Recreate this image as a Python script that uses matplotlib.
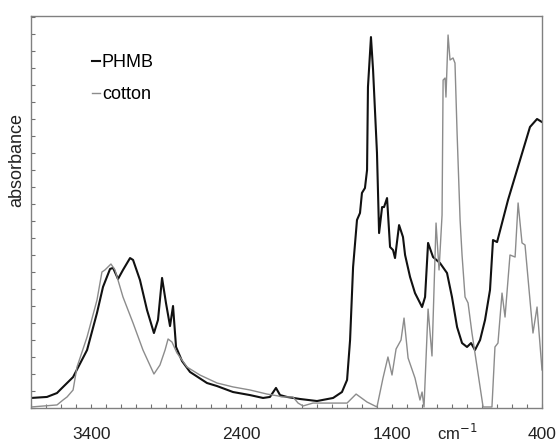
import matplotlib.pyplot as plt
import numpy as np
from matplotlib.ticker import MultipleLocator, FixedLocator, NullFormatter

# PHMB spectrum (wavenumber in cm-1, absorbance in arbitrary units)
phmb_wn = [3800, 3694, 3627, 3607, 3520, 3427, 3361, 3321, 3274, 3254, 3221, 3188,
           3141, 3121, 3075, 3028, 2982, 2955, 2928, 2902, 2875, 2855, 2835, 2795,
           2742, 2629, 2562, 2456, 2343, 2256, 2210, 2170, 2143, 2097, 2010, 1897,
           1790, 1731, 1697, 1677, 1657, 1631, 1611, 1598, 1578, 1564, 1558, 1538,
           1524, 1498, 1484, 1464, 1451, 1431, 1411, 1391, 1378, 1351, 1325, 1311,
           1278, 1245, 1198, 1178, 1158, 1125, 1079, 1032, 999, 965, 932, 899,
           872, 846, 812, 779, 746, 726, 699, 666, 626, 546, 480, 433, 400]
phmb_abs = [0.59, 0.65, 0.88, 1.06, 1.82, 3.41, 5.59, 7.12, 8.18, 8.24, 7.59, 8.12,
            8.82, 8.71, 7.53, 5.76, 4.41, 5.18, 7.65, 6.18, 4.82, 6.0, 3.59, 2.76,
            2.12, 1.47, 1.29, 0.94, 0.76, 0.59, 0.65, 1.18, 0.76, 0.65, 0.53, 0.41,
            0.59, 0.94, 1.65, 4.0, 8.29, 11.06, 11.47, 12.65, 12.94, 14.0, 18.88, 21.82,
            19.88, 15.0, 10.29, 11.82, 11.82, 12.35, 9.47, 9.29, 8.82, 10.76, 10.06, 9.0,
            7.71, 6.76, 5.94, 6.53, 9.71, 8.88, 8.53, 7.94, 6.53, 4.76, 3.82, 3.59,
            3.82, 3.41, 4.0, 5.18, 6.94, 9.88, 9.76, 10.88, 12.24, 14.59, 16.53, 17.0, 16.82]

# cotton spectrum
cotton_wn = [3800, 3627, 3587, 3560, 3520, 3494, 3427, 3361, 3328, 3308, 3268, 3241,
             3188, 3121, 3055, 2982, 2942, 2908, 2888, 2862, 2829, 2762, 2676, 2562,
             2456, 2343, 2230, 2156, 2130, 2057, 2023, 1990, 1924, 1697, 1637, 1564,
             1498, 1458, 1425, 1398, 1371, 1338, 1318, 1291, 1245, 1212, 1198, 1185,
             1158, 1132, 1105, 1085, 1065, 1058, 1045, 1039, 1025, 1012, 992, 979,
             965, 945, 932, 912, 892, 866, 832, 799, 792, 733, 713, 693,
             666, 646, 613, 579, 559, 533, 513, 480, 460, 433, 400]
cotton_abs = [0.06, 0.18, 0.47, 0.65, 1.06, 2.41, 4.18, 6.35, 8.0, 8.12, 8.47, 8.12,
              6.53, 5.0, 3.41, 2.0, 2.53, 3.41, 4.06, 3.88, 3.24, 2.41, 1.94, 1.47,
              1.24, 1.06, 0.82, 0.71, 0.65, 0.65, 0.29, 0.12, 0.29, 0.29, 0.82, 0.35,
              0.06, 1.76, 3.0, 1.94, 3.47, 4.0, 5.29, 2.94, 1.76, 0.47, 0.94, 0.06,
              5.82, 3.06, 10.88, 8.12, 11.35, 19.29, 19.41, 18.29, 21.94, 20.47, 20.59, 20.29,
              16.18, 11.06, 9.0, 6.53, 6.18, 4.41, 2.41, 0.47, 0.06, 0.06, 3.59, 3.82,
              6.76, 5.35, 9.0, 8.88, 12.06, 9.71, 9.59, 6.35, 4.41, 5.94, 2.24]

x_ticks = [3400, 2400, 1400, 400]
x_tick_labels = ['3400', '2400', '1400', '400']


def create_ftir_chart():
    """Draw the PHMB / cotton FTIR spectra"""
    plt.rcParams['font.family'] = ['Liberation Sans', 'DejaVu Sans']

    fig = plt.figure(figsize=(5.59, 4.42), dpi=100)
    ax = fig.add_axes([31 / 559, 1 - 408 / 442, 511 / 559, 392 / 442])

    ax.plot(phmb_wn, phmb_abs, color='#111111', lw=1.5, label='PHMB')
    ax.plot(cotton_wn, cotton_abs, color='#8c8c8c', lw=1.0, label='cotton')

    # inverted wavenumber axis
    ax.set_xlim(3800, 400)
    ax.set_ylim(0, 392 / 17)

    ax.xaxis.set_major_locator(FixedLocator(x_ticks))
    ax.set_xticklabels(x_tick_labels)
    ax.xaxis.set_minor_locator(MultipleLocator(100))
    ax.yaxis.set_major_locator(MultipleLocator(1))
    ax.yaxis.set_major_formatter(NullFormatter())

    ax.tick_params(axis='both', which='both', direction='in', length=3,
                   width=0.8, color='#707070')
    ax.tick_params(axis='x', which='major', labelsize=12.5, pad=13.5,
                   labelcolor='#222222')
    ax.tick_params(axis='y', left=True, right=False)
    for spine in ax.spines.values():
        spine.set_color('#808080')
        spine.set_linewidth(1.0)

    # legend with short dash handles
    ax.legend(loc='upper left', bbox_to_anchor=(92 / 559, 1 - 54 / 442),
              bbox_transform=fig.transFigure, frameon=False, fontsize=13,
              handlelength=0.45, handletextpad=0.1, borderpad=0,
              borderaxespad=0, labelspacing=0.85)

    fig.text(17 / 559, 1 - 160 / 442, 'absorbance', rotation=90,
             ha='center', va='center', fontsize=13, color='#222222')
    fig.text(457 / 559, 1.5 / 442, 'cm$^{-1}$', ha='center', va='baseline',
             fontsize=12, color='#222222')

    return fig


fig = create_ftir_chart()
fig.savefig('out.png', dpi=100)
